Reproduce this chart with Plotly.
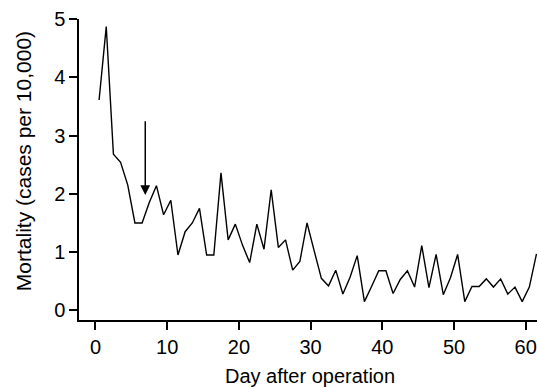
import plotly.graph_objects as go

days = [k + 0.5 for k in range(62)]
mortality = [
    3.61, 4.87, 2.68, 2.54, 2.15, 1.50, 1.50, 1.85, 2.14, 1.64,
    1.89, 0.95, 1.35, 1.50, 1.75, 0.95, 0.95, 2.36, 1.21, 1.48,
    1.12, 0.82, 1.48, 1.05, 2.07, 1.08, 1.21, 0.69, 0.84, 1.50,
    1.02, 0.55, 0.42, 0.69, 0.28, 0.57, 0.94, 0.15, 0.41, 0.68,
    0.68, 0.29, 0.53, 0.68, 0.40, 1.11, 0.39, 0.96, 0.27, 0.56,
    0.96, 0.15, 0.41, 0.41, 0.54, 0.40, 0.54, 0.28, 0.40, 0.15,
    0.40, 0.97,
]
x_ticks = [0, 10, 20, 30, 40, 50, 60]
y_ticks = [0, 1, 2, 3, 4, 5]
arrow_day = 6.94
arrow_tail = 3.27
arrow_tip = 1.98

FONT = "Arial, Liberation Sans, sans-serif"

fig = go.Figure()
fig.add_trace(go.Scatter(
    x=days, y=mortality, mode="lines",
    line=dict(color="black", width=1.4),
    showlegend=False, hoverinfo="skip",
))

fig.add_annotation(
    x=arrow_day, y=arrow_tip, ax=arrow_day, ay=arrow_tail,
    xref="x", yref="y", axref="x", ayref="y",
    showarrow=True, arrowhead=2, arrowsize=1.3, arrowwidth=1.5,
    arrowcolor="black", standoff=0, text="",
)

fig.add_annotation(
    text="Day after operation", xref="paper", yref="paper",
    x=0.504, y=-0.186, xanchor="center", yanchor="middle",
    showarrow=False, font=dict(family=FONT, size=20, color="black"),
)
fig.add_annotation(
    text="Mortality (cases per 10,000)", xref="paper", yref="paper",
    x=-0.122, y=0.528, xanchor="center", yanchor="middle", textangle=-90,
    showarrow=False, font=dict(family=FONT, size=21, color="black"),
)

fig.update_xaxes(
    range=[-2.30, 61.57], tickvals=x_ticks, ticks="outside", ticklen=8,
    tickwidth=1.5, tickcolor="black", showline=True, linecolor="black",
    linewidth=1.5, showgrid=False, zeroline=False,
    tickfont=dict(family=FONT, size=20, color="black"),
)
fig.update_yaxes(
    range=[-0.165, 5.0], tickvals=y_ticks, ticks="outside", ticklen=8,
    tickwidth=1.5, tickcolor="black", showline=True, linecolor="black",
    linewidth=1.5, showgrid=False, zeroline=False,
    tickfont=dict(family=FONT, size=20, color="black"),
)

fig.update_layout(
    width=537, height=387,
    margin=dict(l=79, r=0, t=19, b=67),
    plot_bgcolor="white", paper_bgcolor="white",
    font=dict(family=FONT, size=20, color="black"),
)

fig.write_html(
    "out.html",
    config={"displayModeBar": False},
    post_script="document.body.style.margin='0';document.body.style.overflow='hidden';",
)
